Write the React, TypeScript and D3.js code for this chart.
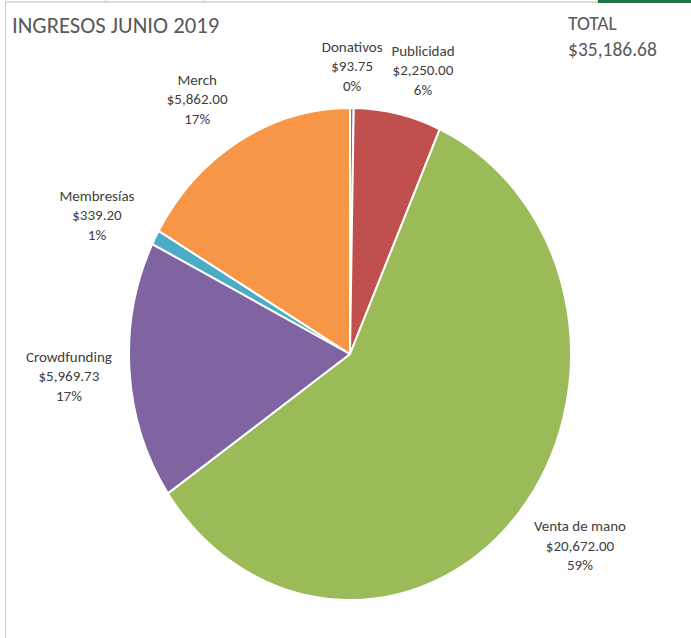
import { useEffect, useRef } from "react";
import * as d3 from "d3";

// ── Data ───────────────────────────────────────────────────────
const categories = ["Donativos", "Publicidad", "Venta de mano", "Crowdfunding", "Membresías", "Merch"];
const amounts = [93.75, 2250.0, 20672.0, 5969.73, 339.2, 5862.0];
const sliceColors = ["#4F81BD", "#C0504D", "#9BBB59", "#8064A2", "#4BACC6", "#F79646"];
// label placement: distance from centre (x pie radius) and angle nudge in degrees (Excel best fit)
const labelRadius = [1.17, 1.2, 1.3, 1.275, 1.277, 1.247];
const labelShift = [0, 3.5, -2.9, 0, -2, -3.7];

const title = "INGRESOS JUNIO 2019";

export default function App() {
  const svgRef = useRef<SVGSVGElement>(null);

  useEffect(() => {
    if (!svgRef.current) return;
    const svg = d3.select(svgRef.current);
    svg.selectAll("*").remove();

    const width = 691;
    const height = 638;
    const font = "Carlito, 'Liberation Sans Narrow', 'DejaVu Sans Condensed', sans-serif";

    svg.attr("width", width).attr("height", height)
      .attr("style", "position:absolute;left:0;top:0;background:white");

    // ── Frame bits (spreadsheet edges) ─────────────────────────
    svg.append("line").attr("x1", 5.5).attr("x2", 5.5).attr("y1", 2).attr("y2", height)
      .attr("stroke", "#c8c8c8").attr("stroke-width", 1);
    svg.append("line").attr("x1", 5).attr("x2", 598).attr("y1", 2).attr("y2", 2)
      .attr("stroke", "#d0d0d0").attr("stroke-width", 1.5);
    svg.append("rect").attr("x", 597).attr("y", 0).attr("width", width - 597).attr("height", 3)
      .attr("fill", "#217346");
    [105, 204, 597].forEach((x) => {
      svg.append("line").attr("x1", x + 0.5).attr("x2", x + 0.5).attr("y1", 0).attr("y2", 3)
        .attr("stroke", "#d0d0d0");
    });

    // ── Pie ─────────────────────────────────────────────────────
    const cx = 350;
    const cy = 354;
    const rx = 221;
    const ry = 246;
    const total = d3.sum(amounts);

    const pie = d3.pie<number>().sort(null).value((d) => d)
      .startAngle(0).endAngle(2 * Math.PI);
    const arcs = pie(amounts);
    const arc = d3.arc<d3.PieArcDatum<number>>().innerRadius(0).outerRadius(rx);

    const g = svg.append("g").attr("transform", `translate(${cx},${cy}) scale(1,${ry / rx})`);
    g.selectAll("path")
      .data(arcs)
      .join("path")
      .attr("d", arc)
      .attr("fill", (_, i) => sliceColors[i])
      .attr("stroke", "white")
      .attr("stroke-width", 2)
      .attr("stroke-linejoin", "round")
      .attr("vector-effect", "non-scaling-stroke");

    // ── Labels ──────────────────────────────────────────────────
    const money = d3.format(",.2f");
    const pct = d3.format(".0%");
    arcs.forEach((a, i) => {
      const mid = (a.startAngle + a.endAngle) / 2 + (labelShift[i] * Math.PI) / 180;
      const k = labelRadius[i];
      const x = cx + Math.sin(mid) * rx * k;
      const y = cy - Math.cos(mid) * ry * k;
      const t = svg.append("text")
        .attr("x", x).attr("y", y)
        .attr("text-anchor", "middle")
        .attr("font-family", font)
        .attr("font-size", 15)
        .attr("fill", "#404040");
      const lines = [categories[i], "$" + money(amounts[i]), pct(amounts[i] / total)];
      lines.forEach((line, j) => {
        t.append("tspan")
          .attr("x", x)
          .attr("y", y + (j - 1) * 19.5)
          .attr("dy", "0.35em")
          .text(line);
      });
    });

    // ── Title + total ───────────────────────────────────────────
    svg.append("text")
      .attr("x", 12).attr("y", 33)
      .attr("font-family", font)
      .attr("font-size", 22.7)
      .attr("fill", "#595959")
      .text(title);

    svg.append("text")
      .attr("x", 568).attr("y", 30)
      .attr("font-family", font)
      .attr("font-size", 19.5)
      .attr("fill", "#595959")
      .text("TOTAL");
    svg.append("text")
      .attr("x", 568).attr("y", 56)
      .attr("font-family", font)
      .attr("font-size", 19.5)
      .attr("fill", "#595959")
      .text("$" + money(total));
  }, []);

  return <svg ref={svgRef} />;
}
